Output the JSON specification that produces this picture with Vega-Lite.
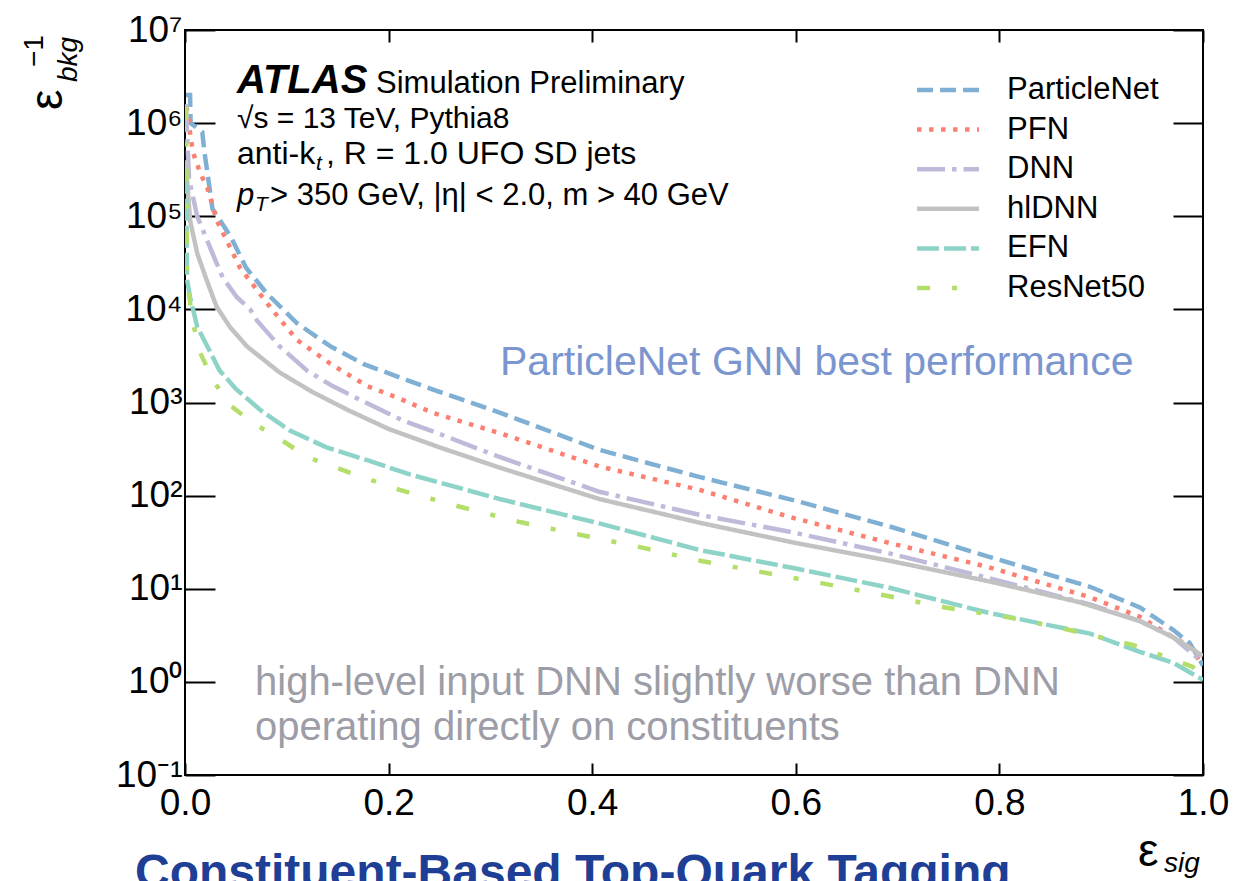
{
"$schema": "https://vega.github.io/schema/vega-lite/v6.json",
"width": 1018, "height": 745,
"autosize": {"type": "none"},
"padding": {"left": 185, "top": 30, "right": 45, "bottom": 106},
"background": "white",
"config": {"font": "Liberation Sans", "view": {"stroke": "black", "strokeWidth": 2}},
"datasets": {
"models": [{"model":"ParticleNet"},{"model":"PFN"},{"model":"DNN"},{"model":"hlDNN"},{"model":"EFN"},{"model":"ResNet50"}],
"roc": [
{"model":"ParticleNet","eps_sig":0.001,"inv_eps_bkg":2.0e6},
{"model":"ParticleNet","eps_sig":0.005,"inv_eps_bkg":2.0e6},
{"model":"ParticleNet","eps_sig":0.0055,"inv_eps_bkg":1.0e6},
{"model":"ParticleNet","eps_sig":0.017,"inv_eps_bkg":8.0e5},
{"model":"ParticleNet","eps_sig":0.019,"inv_eps_bkg":5.0e5},
{"model":"ParticleNet","eps_sig":0.027,"inv_eps_bkg":1.2e5},
{"model":"ParticleNet","eps_sig":0.045,"inv_eps_bkg":6.0e4},
{"model":"ParticleNet","eps_sig":0.06,"inv_eps_bkg":2.8e4},
{"model":"ParticleNet","eps_sig":0.08,"inv_eps_bkg":1.5e4},
{"model":"ParticleNet","eps_sig":0.11,"inv_eps_bkg":7100},
{"model":"ParticleNet","eps_sig":0.143,"inv_eps_bkg":4000},
{"model":"ParticleNet","eps_sig":0.175,"inv_eps_bkg":2600},
{"model":"ParticleNet","eps_sig":0.218,"inv_eps_bkg":1740},
{"model":"ParticleNet","eps_sig":0.25,"inv_eps_bkg":1300},
{"model":"ParticleNet","eps_sig":0.309,"inv_eps_bkg":780},
{"model":"ParticleNet","eps_sig":0.407,"inv_eps_bkg":310},
{"model":"ParticleNet","eps_sig":0.506,"inv_eps_bkg":158},
{"model":"ParticleNet","eps_sig":0.6,"inv_eps_bkg":88},
{"model":"ParticleNet","eps_sig":0.694,"inv_eps_bkg":46},
{"model":"ParticleNet","eps_sig":0.79,"inv_eps_bkg":22},
{"model":"ParticleNet","eps_sig":0.889,"inv_eps_bkg":10.5},
{"model":"ParticleNet","eps_sig":0.938,"inv_eps_bkg":6.3},
{"model":"ParticleNet","eps_sig":0.971,"inv_eps_bkg":3.6},
{"model":"ParticleNet","eps_sig":0.987,"inv_eps_bkg":2.6},
{"model":"ParticleNet","eps_sig":1.0,"inv_eps_bkg":1.5},
{"model":"PFN","eps_sig":0.001,"inv_eps_bkg":1.5e6},
{"model":"PFN","eps_sig":0.003,"inv_eps_bkg":1.3e6},
{"model":"PFN","eps_sig":0.005,"inv_eps_bkg":7.7e5},
{"model":"PFN","eps_sig":0.008,"inv_eps_bkg":4.8e5},
{"model":"PFN","eps_sig":0.015,"inv_eps_bkg":2.9e5},
{"model":"PFN","eps_sig":0.022,"inv_eps_bkg":2.0e5},
{"model":"PFN","eps_sig":0.0275,"inv_eps_bkg":1.26e5},
{"model":"PFN","eps_sig":0.031,"inv_eps_bkg":9.1e4},
{"model":"PFN","eps_sig":0.044,"inv_eps_bkg":4.7e4},
{"model":"PFN","eps_sig":0.054,"inv_eps_bkg":2.8e4},
{"model":"PFN","eps_sig":0.071,"inv_eps_bkg":1.6e4},
{"model":"PFN","eps_sig":0.086,"inv_eps_bkg":9800},
{"model":"PFN","eps_sig":0.11,"inv_eps_bkg":4700},
{"model":"PFN","eps_sig":0.143,"inv_eps_bkg":2600},
{"model":"PFN","eps_sig":0.179,"inv_eps_bkg":1500},
{"model":"PFN","eps_sig":0.211,"inv_eps_bkg":1100},
{"model":"PFN","eps_sig":0.244,"inv_eps_bkg":770},
{"model":"PFN","eps_sig":0.309,"inv_eps_bkg":470},
{"model":"PFN","eps_sig":0.407,"inv_eps_bkg":206},
{"model":"PFN","eps_sig":0.506,"inv_eps_bkg":115},
{"model":"PFN","eps_sig":0.594,"inv_eps_bkg":59},
{"model":"PFN","eps_sig":0.692,"inv_eps_bkg":31},
{"model":"PFN","eps_sig":0.79,"inv_eps_bkg":17},
{"model":"PFN","eps_sig":0.889,"inv_eps_bkg":8.1},
{"model":"PFN","eps_sig":0.938,"inv_eps_bkg":5.0},
{"model":"PFN","eps_sig":0.971,"inv_eps_bkg":3.0},
{"model":"PFN","eps_sig":0.987,"inv_eps_bkg":2.4},
{"model":"PFN","eps_sig":1.0,"inv_eps_bkg":1.5},
{"model":"DNN","eps_sig":0.001,"inv_eps_bkg":1.6e6},
{"model":"DNN","eps_sig":0.002,"inv_eps_bkg":8.0e5},
{"model":"DNN","eps_sig":0.004,"inv_eps_bkg":2.5e5},
{"model":"DNN","eps_sig":0.012,"inv_eps_bkg":1.0e5},
{"model":"DNN","eps_sig":0.027,"inv_eps_bkg":4.0e4},
{"model":"DNN","eps_sig":0.037,"inv_eps_bkg":2.2e4},
{"model":"DNN","eps_sig":0.051,"inv_eps_bkg":1.35e4},
{"model":"DNN","eps_sig":0.064,"inv_eps_bkg":1.0e4},
{"model":"DNN","eps_sig":0.071,"inv_eps_bkg":7500},
{"model":"DNN","eps_sig":0.093,"inv_eps_bkg":4000},
{"model":"DNN","eps_sig":0.12,"inv_eps_bkg":2200},
{"model":"DNN","eps_sig":0.145,"inv_eps_bkg":1500},
{"model":"DNN","eps_sig":0.179,"inv_eps_bkg":980},
{"model":"DNN","eps_sig":0.214,"inv_eps_bkg":640},
{"model":"DNN","eps_sig":0.25,"inv_eps_bkg":460},
{"model":"DNN","eps_sig":0.309,"inv_eps_bkg":260},
{"model":"DNN","eps_sig":0.407,"inv_eps_bkg":110},
{"model":"DNN","eps_sig":0.506,"inv_eps_bkg":62},
{"model":"DNN","eps_sig":0.594,"inv_eps_bkg":41},
{"model":"DNN","eps_sig":0.692,"inv_eps_bkg":24},
{"model":"DNN","eps_sig":0.79,"inv_eps_bkg":13},
{"model":"DNN","eps_sig":0.889,"inv_eps_bkg":6.8},
{"model":"DNN","eps_sig":0.938,"inv_eps_bkg":4.5},
{"model":"DNN","eps_sig":0.971,"inv_eps_bkg":3.0},
{"model":"DNN","eps_sig":1.0,"inv_eps_bkg":1.6},
{"model":"hlDNN","eps_sig":0.001,"inv_eps_bkg":4.0e5},
{"model":"hlDNN","eps_sig":0.002,"inv_eps_bkg":2.5e5},
{"model":"hlDNN","eps_sig":0.005,"inv_eps_bkg":9.0e4},
{"model":"hlDNN","eps_sig":0.012,"inv_eps_bkg":4.0e4},
{"model":"hlDNN","eps_sig":0.021,"inv_eps_bkg":2.1e4},
{"model":"hlDNN","eps_sig":0.031,"inv_eps_bkg":1.07e4},
{"model":"hlDNN","eps_sig":0.044,"inv_eps_bkg":6500},
{"model":"hlDNN","eps_sig":0.061,"inv_eps_bkg":4000},
{"model":"hlDNN","eps_sig":0.093,"inv_eps_bkg":2100},
{"model":"hlDNN","eps_sig":0.125,"inv_eps_bkg":1300},
{"model":"hlDNN","eps_sig":0.16,"inv_eps_bkg":830},
{"model":"hlDNN","eps_sig":0.2,"inv_eps_bkg":520},
{"model":"hlDNN","eps_sig":0.25,"inv_eps_bkg":330},
{"model":"hlDNN","eps_sig":0.309,"inv_eps_bkg":200},
{"model":"hlDNN","eps_sig":0.407,"inv_eps_bkg":92},
{"model":"hlDNN","eps_sig":0.506,"inv_eps_bkg":51},
{"model":"hlDNN","eps_sig":0.6,"inv_eps_bkg":31},
{"model":"hlDNN","eps_sig":0.692,"inv_eps_bkg":20},
{"model":"hlDNN","eps_sig":0.79,"inv_eps_bkg":12},
{"model":"hlDNN","eps_sig":0.878,"inv_eps_bkg":7.2},
{"model":"hlDNN","eps_sig":0.938,"inv_eps_bkg":4.5},
{"model":"hlDNN","eps_sig":0.971,"inv_eps_bkg":3.0},
{"model":"hlDNN","eps_sig":1.0,"inv_eps_bkg":1.9},
{"model":"EFN","eps_sig":0.001,"inv_eps_bkg":3.0e5},
{"model":"EFN","eps_sig":0.002,"inv_eps_bkg":2.1e4},
{"model":"EFN","eps_sig":0.005,"inv_eps_bkg":1.35e4},
{"model":"EFN","eps_sig":0.012,"inv_eps_bkg":6500},
{"model":"EFN","eps_sig":0.022,"inv_eps_bkg":4000},
{"model":"EFN","eps_sig":0.034,"inv_eps_bkg":2200},
{"model":"EFN","eps_sig":0.05,"inv_eps_bkg":1400},
{"model":"EFN","eps_sig":0.074,"inv_eps_bkg":830},
{"model":"EFN","eps_sig":0.103,"inv_eps_bkg":500},
{"model":"EFN","eps_sig":0.139,"inv_eps_bkg":330},
{"model":"EFN","eps_sig":0.179,"inv_eps_bkg":240},
{"model":"EFN","eps_sig":0.22,"inv_eps_bkg":170},
{"model":"EFN","eps_sig":0.309,"inv_eps_bkg":92},
{"model":"EFN","eps_sig":0.408,"inv_eps_bkg":50},
{"model":"EFN","eps_sig":0.506,"inv_eps_bkg":26},
{"model":"EFN","eps_sig":0.6,"inv_eps_bkg":16.5},
{"model":"EFN","eps_sig":0.693,"inv_eps_bkg":10.2},
{"model":"EFN","eps_sig":0.79,"inv_eps_bkg":5.5},
{"model":"EFN","eps_sig":0.889,"inv_eps_bkg":3.3},
{"model":"EFN","eps_sig":0.938,"inv_eps_bkg":2.1},
{"model":"EFN","eps_sig":0.971,"inv_eps_bkg":1.6},
{"model":"EFN","eps_sig":1.0,"inv_eps_bkg":1.05},
{"model":"ResNet50","eps_sig":0.001,"inv_eps_bkg":1.5e6},
{"model":"ResNet50","eps_sig":0.0015,"inv_eps_bkg":1.0e5},
{"model":"ResNet50","eps_sig":0.002,"inv_eps_bkg":2.0e4},
{"model":"ResNet50","eps_sig":0.008,"inv_eps_bkg":7000},
{"model":"ResNet50","eps_sig":0.015,"inv_eps_bkg":3400},
{"model":"ResNet50","eps_sig":0.028,"inv_eps_bkg":1700},
{"model":"ResNet50","eps_sig":0.044,"inv_eps_bkg":940},
{"model":"ResNet50","eps_sig":0.067,"inv_eps_bkg":600},
{"model":"ResNet50","eps_sig":0.094,"inv_eps_bkg":400},
{"model":"ResNet50","eps_sig":0.12,"inv_eps_bkg":260},
{"model":"ResNet50","eps_sig":0.148,"inv_eps_bkg":200},
{"model":"ResNet50","eps_sig":0.211,"inv_eps_bkg":115},
{"model":"ResNet50","eps_sig":0.27,"inv_eps_bkg":76},
{"model":"ResNet50","eps_sig":0.329,"inv_eps_bkg":52},
{"model":"ResNet50","eps_sig":0.388,"inv_eps_bkg":38},
{"model":"ResNet50","eps_sig":0.447,"inv_eps_bkg":28},
{"model":"ResNet50","eps_sig":0.506,"inv_eps_bkg":20},
{"model":"ResNet50","eps_sig":0.568,"inv_eps_bkg":15},
{"model":"ResNet50","eps_sig":0.625,"inv_eps_bkg":11.5},
{"model":"ResNet50","eps_sig":0.687,"inv_eps_bkg":8.5},
{"model":"ResNet50","eps_sig":0.747,"inv_eps_bkg":6.3},
{"model":"ResNet50","eps_sig":0.81,"inv_eps_bkg":4.9},
{"model":"ResNet50","eps_sig":0.869,"inv_eps_bkg":3.6},
{"model":"ResNet50","eps_sig":0.931,"inv_eps_bkg":2.5},
{"model":"ResNet50","eps_sig":0.99,"inv_eps_bkg":1.45},
{"model":"ResNet50","eps_sig":1.0,"inv_eps_bkg":1.05}
]},
"resolve": {"axis": {"x": "independent", "y": "independent"}, "scale": {"y": "independent"}},
"layer": [
{
 "data": {"name": "roc"},
 "mark": {"type": "line", "strokeWidth": 4.5, "clip": true},
 "encoding": {
  "x": {"field": "eps_sig", "type": "quantitative", "scale": {"domain": [0, 1], "nice": false, "zero": false},
   "axis": {"orient": "bottom", "values": [0, 0.2, 0.4, 0.6, 0.8, 1], "format": ".1f", "title": null, "domain": false, "grid": false, "tickSize": -12, "tickWidth": 2, "tickColor": "black", "labelFontSize": 37, "labelColor": "black", "labelPadding": 22, "labelFlush": false, "labelOverlap": false}},
  "y": {"field": "inv_eps_bkg", "type": "quantitative", "scale": {"type": "log", "domain": [0.1, 10000000], "nice": false},
   "axis": {"orient": "left", "values": [0.1, 1, 10, 100, 1000, 10000, 100000, 1000000, 10000000], "labelExpr": "'10' + ['⁻¹','⁰','¹','²','³','⁴','⁵','⁶','⁷'][round(log(datum.value)/LN10) + 1]", "title": null, "domain": false, "grid": false, "tickSize": -30, "tickWidth": 2, "tickColor": "black", "labelFontSize": 37, "labelColor": "black", "labelPadding": 33, "labelFlush": false, "labelOverlap": false}},
  "color": {"field": "model", "type": "nominal",
   "scale": {"domain": ["ParticleNet", "PFN", "DNN", "hlDNN", "EFN", "ResNet50"], "range": ["#7fb0d4", "#fb8072", "#bebada", "#c2c2c2", "#8dd3c7", "#b3de69"]}, "legend": null},
  "strokeDash": {"field": "model", "type": "nominal",
   "scale": {"domain": ["ParticleNet", "PFN", "DNN", "hlDNN", "EFN", "ResNet50"], "range": [[16, 7], [4.5, 7.5], [28, 7, 4.5, 7], [1, 0], [22, 5], [13, 22, 5, 22]]}, "legend": null}
 }
},
{
 "data": {"values": [{}]},
 "mark": {"type": "point", "opacity": 0},
 "encoding": {
  "x": {"datum": 0.5, "type": "quantitative", "scale": {"domain": [0, 1], "nice": false, "zero": false},
   "axis": {"orient": "top", "values": [0, 0.2, 0.4, 0.6, 0.8, 1], "labels": false, "title": null, "domain": false, "grid": false, "tickSize": -12, "tickWidth": 2, "tickColor": "black"}},
  "y": {"datum": 1, "type": "quantitative", "scale": {"type": "log", "domain": [0.1, 10000000], "nice": false},
   "axis": {"orient": "right", "values": [0.1, 1, 10, 100, 1000, 10000, 100000, 1000000, 10000000], "labels": false, "title": null, "domain": false, "grid": false, "tickSize": -30, "tickWidth": 2, "tickColor": "black"}}
 }
},
{
 "data": {"name": "models"},
 "mark": {"type": "rule", "strokeWidth": 4.5},
 "encoding": {
  "x": {"datum": 0.7191, "type": "quantitative", "scale": {"domain": [0, 1], "nice": false, "zero": false}, "axis": null},
  "x2": {"datum": 0.78},
  "y": {"field": "model", "type": "nominal", "scale": {"type": "point", "padding": 0, "domain": ["ParticleNet", "PFN", "DNN", "hlDNN", "EFN", "ResNet50"], "range": [60, 258]}, "axis": null},
  "color": {"field": "model", "type": "nominal", "scale": {"domain": ["ParticleNet", "PFN", "DNN", "hlDNN", "EFN", "ResNet50"], "range": ["#7fb0d4", "#fb8072", "#bebada", "#c2c2c2", "#8dd3c7", "#b3de69"]}, "legend": null},
  "strokeDash": {"field": "model", "type": "nominal", "scale": {"domain": ["ParticleNet", "PFN", "DNN", "hlDNN", "EFN", "ResNet50"], "range": [[16, 7], [4.5, 7.5], [28, 7, 4.5, 7], [1, 0], [22, 5], [13, 22, 5, 22]]}, "legend": null}
 }
},
{
 "data": {"name": "models"},
 "mark": {"type": "text", "fontSize": 31, "align": "left", "baseline": "middle", "color": "black"},
 "encoding": {
  "x": {"datum": 0.8075, "type": "quantitative", "scale": {"domain": [0, 1], "nice": false, "zero": false}, "axis": null},
  "y": {"field": "model", "type": "nominal", "scale": {"type": "point", "padding": 0, "domain": ["ParticleNet", "PFN", "DNN", "hlDNN", "EFN", "ResNet50"], "range": [60, 258]}, "axis": null},
  "text": {"field": "model", "type": "nominal"}
 }
},
{"data": {"values": [{}]}, "mark": {"type": "text", "text": "ATLAS", "fontSize": 40, "fontWeight": "bold", "fontStyle": "italic", "align": "left", "baseline": "alphabetic", "color": "black"},
 "encoding": {"x": {"datum": 0.05108, "type": "quantitative", "scale": {"domain": [0, 1], "nice": false, "zero": false}, "axis": null}, "y": {"datum": 2106000, "type": "quantitative", "scale": {"type": "log", "domain": [0.1, 10000000], "nice": false}, "axis": null}}},
{"data": {"values": [{}]}, "mark": {"type": "text", "text": "Simulation Preliminary", "fontSize": 31, "align": "left", "baseline": "alphabetic", "color": "black"},
 "encoding": {"x": {"datum": 0.18762, "type": "quantitative", "scale": {"domain": [0, 1], "nice": false, "zero": false}, "axis": null}, "y": {"datum": 2106000, "type": "quantitative", "scale": {"type": "log", "domain": [0.1, 10000000], "nice": false}, "axis": null}}},
{"data": {"values": [{}]}, "mark": {"type": "text", "text": "√s = 13 TeV, Pythia8", "fontSize": 30, "align": "left", "baseline": "alphabetic", "color": "black"},
 "encoding": {"x": {"datum": 0.05108, "type": "quantitative", "scale": {"domain": [0, 1], "nice": false, "zero": false}, "axis": null}, "y": {"datum": 886600, "type": "quantitative", "scale": {"type": "log", "domain": [0.1, 10000000], "nice": false}, "axis": null}}},
{"data": {"values": [{}]}, "mark": {"type": "text", "text": "anti-k", "fontSize": 32, "align": "left", "baseline": "alphabetic", "color": "black"},
 "encoding": {"x": {"datum": 0.05108, "type": "quantitative", "scale": {"domain": [0, 1], "nice": false, "zero": false}, "axis": null}, "y": {"datum": 364000, "type": "quantitative", "scale": {"type": "log", "domain": [0.1, 10000000], "nice": false}, "axis": null}}},
{"data": {"values": [{}]}, "mark": {"type": "text", "text": "t", "fontSize": 21, "fontStyle": "italic", "align": "left", "baseline": "alphabetic", "color": "black"},
 "encoding": {"x": {"datum": 0.1287, "type": "quantitative", "scale": {"domain": [0, 1], "nice": false, "zero": false}, "axis": null}, "y": {"datum": 313900, "type": "quantitative", "scale": {"type": "log", "domain": [0.1, 10000000], "nice": false}, "axis": null}}},
{"data": {"values": [{}]}, "mark": {"type": "text", "text": ", R = 1.0 UFO SD jets", "fontSize": 32, "align": "left", "baseline": "alphabetic", "color": "black"},
 "encoding": {"x": {"datum": 0.1385, "type": "quantitative", "scale": {"domain": [0, 1], "nice": false, "zero": false}, "axis": null}, "y": {"datum": 364000, "type": "quantitative", "scale": {"type": "log", "domain": [0.1, 10000000], "nice": false}, "axis": null}}},
{"data": {"values": [{}]}, "mark": {"type": "text", "text": "p", "fontSize": 31, "fontStyle": "italic", "align": "left", "baseline": "alphabetic", "color": "black"},
 "encoding": {"x": {"datum": 0.05108, "type": "quantitative", "scale": {"domain": [0, 1], "nice": false, "zero": false}, "axis": null}, "y": {"datum": 132050, "type": "quantitative", "scale": {"type": "log", "domain": [0.1, 10000000], "nice": false}, "axis": null}}},
{"data": {"values": [{}]}, "mark": {"type": "text", "text": "T", "fontSize": 21, "fontStyle": "italic", "align": "left", "baseline": "alphabetic", "color": "black"},
 "encoding": {"x": {"datum": 0.06876, "type": "quantitative", "scale": {"domain": [0, 1], "nice": false, "zero": false}, "axis": null}, "y": {"datum": 113870, "type": "quantitative", "scale": {"type": "log", "domain": [0.1, 10000000], "nice": false}, "axis": null}}},
{"data": {"values": [{}]}, "mark": {"type": "text", "text": "> 350 GeV, |η| < 2.0, m > 40 GeV", "fontSize": 31, "align": "left", "baseline": "alphabetic", "color": "black"},
 "encoding": {"x": {"datum": 0.0835, "type": "quantitative", "scale": {"domain": [0, 1], "nice": false, "zero": false}, "axis": null}, "y": {"datum": 132050, "type": "quantitative", "scale": {"type": "log", "domain": [0.1, 10000000], "nice": false}, "axis": null}}},
{"data": {"values": [{}]}, "mark": {"type": "text", "text": "ParticleNet GNN best performance", "fontSize": 41, "align": "left", "baseline": "alphabetic", "color": "#7b95cf"},
 "encoding": {"x": {"datum": 0.30943, "type": "quantitative", "scale": {"domain": [0, 1], "nice": false, "zero": false}, "axis": null}, "y": {"datum": 1974, "type": "quantitative", "scale": {"type": "log", "domain": [0.1, 10000000], "nice": false}, "axis": null}}},
{"data": {"values": [{}]}, "mark": {"type": "text", "text": "high-level input DNN slightly worse than DNN", "fontSize": 40, "align": "left", "baseline": "alphabetic", "color": "#9d9da8"},
 "encoding": {"x": {"datum": 0.06876, "type": "quantitative", "scale": {"domain": [0, 1], "nice": false, "zero": false}, "axis": null}, "y": {"datum": 0.7229, "type": "quantitative", "scale": {"type": "log", "domain": [0.1, 10000000], "nice": false}, "axis": null}}},
{"data": {"values": [{}]}, "mark": {"type": "text", "text": "operating directly on constituents", "fontSize": 40, "align": "left", "baseline": "alphabetic", "color": "#9d9da8"},
 "encoding": {"x": {"datum": 0.06876, "type": "quantitative", "scale": {"domain": [0, 1], "nice": false, "zero": false}, "axis": null}, "y": {"datum": 0.2376, "type": "quantitative", "scale": {"type": "log", "domain": [0.1, 10000000], "nice": false}, "axis": null}}},
{"data": {"values": [{}]}, "mark": {"type": "text", "text": "ε", "fontSize": 46, "align": "left", "baseline": "alphabetic", "angle": 270, "color": "black"},
 "encoding": {"x": {"datum": -0.12083, "type": "quantitative", "scale": {"domain": [0, 1], "nice": false, "zero": false}, "axis": null}, "y": {"datum": 1383000, "type": "quantitative", "scale": {"type": "log", "domain": [0.1, 10000000], "nice": false}, "axis": null}}},
{"data": {"values": [{}]}, "mark": {"type": "text", "text": "bkg", "fontSize": 28, "fontStyle": "italic", "align": "left", "baseline": "alphabetic", "angle": 270, "color": "black"},
 "encoding": {"x": {"datum": -0.10609, "type": "quantitative", "scale": {"domain": [0, 1], "nice": false, "zero": false}, "axis": null}, "y": {"datum": 2764000, "type": "quantitative", "scale": {"type": "log", "domain": [0.1, 10000000], "nice": false}, "axis": null}}},
{"data": {"values": [{}]}, "mark": {"type": "text", "text": "−1", "fontSize": 28, "align": "left", "baseline": "alphabetic", "angle": 270, "color": "black"},
 "encoding": {"x": {"datum": -0.13949, "type": "quantitative", "scale": {"domain": [0, 1], "nice": false, "zero": false}, "axis": null}, "y": {"datum": 4005000, "type": "quantitative", "scale": {"type": "log", "domain": [0.1, 10000000], "nice": false}, "axis": null}}},
{"data": {"values": [{}]}, "mark": {"type": "text", "text": "ε", "fontSize": 46, "align": "left", "baseline": "alphabetic", "color": "black"},
 "encoding": {"x": {"datum": 0.93615, "type": "quantitative", "scale": {"domain": [0, 1], "nice": false, "zero": false}, "axis": null}, "y": {"datum": 0.010539, "type": "quantitative", "scale": {"type": "log", "domain": [0.1, 10000000], "nice": false}, "axis": null}}},
{"data": {"values": [{}]}, "mark": {"type": "text", "text": "sig", "fontSize": 28, "fontStyle": "italic", "align": "left", "baseline": "alphabetic", "color": "black"},
 "encoding": {"x": {"datum": 0.96169, "type": "quantitative", "scale": {"domain": [0, 1], "nice": false, "zero": false}, "axis": null}, "y": {"datum": 0.009087, "type": "quantitative", "scale": {"type": "log", "domain": [0.1, 10000000], "nice": false}, "axis": null}}},
{"data": {"values": [{}]}, "mark": {"type": "text", "text": "Constituent-Based Top-Quark Tagging", "fontSize": 48, "fontWeight": "bold", "align": "left", "baseline": "alphabetic", "color": "#1f3f96"},
 "encoding": {"x": {"datum": -0.04912, "type": "quantitative", "scale": {"domain": [0, 1], "nice": false, "zero": false}, "axis": null}, "y": {"datum": 0.006117, "type": "quantitative", "scale": {"type": "log", "domain": [0.1, 10000000], "nice": false}, "axis": null}}}
]
}
